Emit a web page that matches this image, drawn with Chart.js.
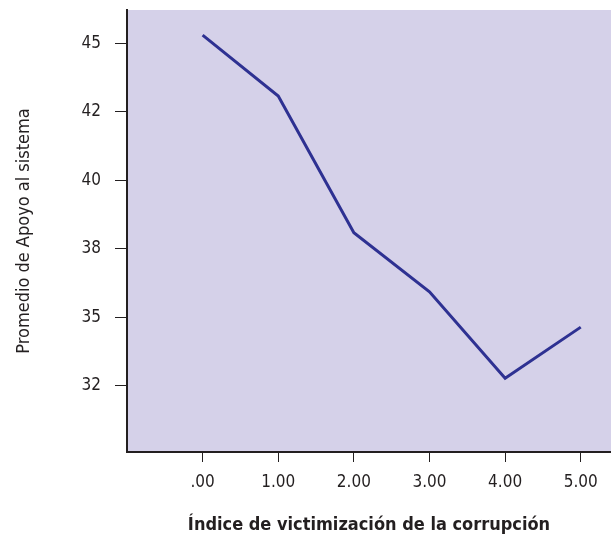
<!DOCTYPE html>
<html>
<head>
<meta charset="utf-8">
<script src="https://cdn.jsdelivr.net/npm/chart.js@4"></script>
<style>
html,body{margin:0;padding:0;background:#fff;}
#wrap{width:611px;height:540px;}
</style>
</head>
<body>
<div id="wrap"><canvas id="c" width="611" height="540"></canvas></div>
<script>
const xValues = [0, 1, 2, 3, 4, 5];
const xTickLabels = ['.00', '1.00', '2.00', '3.00', '4.00', '5.00'];
const apoyo = [45.30, 43.08, 38.09, 35.93, 32.77, 34.64];
const yTickValues = [32.5, 35, 37.5, 40, 42.5, 45];
const yTickLabels = ['32', '35', '38', '40', '42', '45'];
const xTitle = 'Índice de victimización de la corrupción';
const yTitle = 'Promedio de Apoyo al sistema';

const FONT = '"DejaVu Sans Condensed", "Liberation Sans Narrow", sans-serif';

const bgPlugin = {
  id: 'bg',
  beforeDraw(chart) {
    const {ctx, chartArea: a} = chart;
    ctx.save();
    ctx.fillStyle = '#d5d1e9';
    ctx.fillRect(a.left, a.top, a.right - a.left, a.bottom - a.top);
    ctx.restore();
  }
};

new Chart(document.getElementById('c'), {
  type: 'line',
  data: {
    datasets: [{
      data: xValues.map((x, i) => ({x: x, y: apoyo[i]})),
      borderColor: '#2e3192',
      borderWidth: 3,
      pointRadius: 0,
      tension: 0,
      fill: false
    }]
  },
  options: {
    responsive: false,
    animation: false,
    layout: {padding: {top: 10, right: 0, left: 0, bottom: 0}},
    plugins: {legend: {display: false}, tooltip: {enabled: false}},
    scales: {
      x: {
        type: 'linear',
        min: -1,
        max: 5.4,
        afterBuildTicks(s) { s.ticks = xValues.map(v => ({value: v})); },
        afterFit(s) { s.height = 88; s.paddingLeft = 0; s.paddingRight = 0; },
        border: {display: true, color: '#231f20', width: 2},
        grid: {display: true, drawOnChartArea: false, drawTicks: true, tickLength: 10, color: '#231f20', lineWidth: 1},
        ticks: {
          color: '#231f20',
          padding: 10,
          maxRotation: 0,
          autoSkip: false,
          font: {family: FONT, size: 17},
          callback: (v) => { const i = xValues.indexOf(v); return i >= 0 ? xTickLabels[i] : ''; }
        },
        title: {
          display: true,
          text: xTitle,
          color: '#231f20',
          font: {family: FONT, size: 18, weight: 'bold'},
          padding: {top: 10, bottom: 4}
        }
      },
      y: {
        type: 'linear',
        min: 30.08,
        max: 46.22,
        afterBuildTicks(s) { s.ticks = yTickValues.map(v => ({value: v})); },
        afterFit(s) { s.width = 127; s.paddingTop = 0; s.paddingBottom = 0; },
        border: {display: true, color: '#231f20', width: 2},
        grid: {display: true, drawOnChartArea: false, drawTicks: true, tickLength: 12, color: '#231f20', lineWidth: 1},
        ticks: {
          color: '#231f20',
          padding: 14,
          autoSkip: false,
          font: {family: FONT, size: 17},
          callback: (v) => { const i = yTickValues.indexOf(v); return i >= 0 ? yTickLabels[i] : ''; }
        },
        title: {
          display: true,
          text: yTitle,
          color: '#231f20',
          font: {family: FONT, size: 18},
          padding: {top: 14, bottom: 0}
        }
      }
    }
  },
  plugins: [bgPlugin]
});
</script>
</body>
</html>
